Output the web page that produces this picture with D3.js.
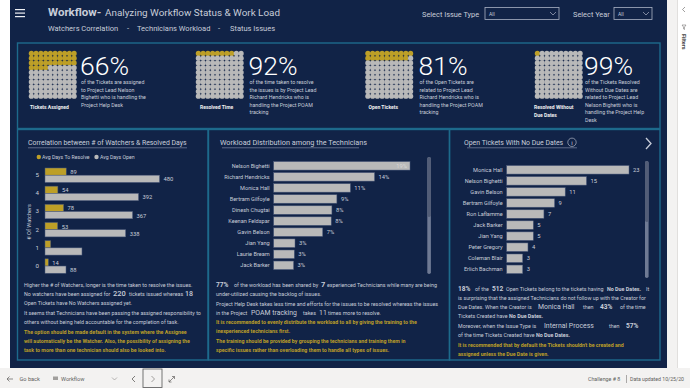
<!DOCTYPE html>
<html>
<head>
<meta charset="utf-8">
<script src="https://cdn.jsdelivr.net/npm/d3@7"></script>
<style>
  html, body { margin: 0; padding: 0; background: #fff; overflow: hidden; }
  text { font-family: Roboto, "Noto Sans", sans-serif; white-space: pre; }
</style>
</head>
<body>
<script>
// Chart values
const kpiValues = [66, 92, 81, 99];
const kpiCaptions = [["Tickets Assigned"], ["Resolved Time"], ["Open Tickets"], ["Resolved Without", "Due Dates"]];
const kpiText = [
  ["of the Tickets are assigned", "to Project Lead Nelson", "Bighetti who is handling the", "Project Help Desk"],
  ["of the time taken to resolve", "the issues is by Project Lead", "Richard Hendricks who is", "handling the Project POAM", "tracking"],
  ["of the Open Tickets are", "related to Project Lead", "Richard Hendricks who is", "handling the Project POAM", "tracking"],
  ["of the Tickets Resolved", "Without Due Dates are", "related to Project Lead", "Nelson Bighetti who is", "handling the Project Help", "Desk"]
];

const watcherCats = ["5", "4", "3", "2", "1", "0"];
const daysToResolve = [89, 54, 78, 53, 24, 14];
const daysOpen = [480, 392, 367, 338, 155, 88];
const hiddenLabels = ["1"];

const techNames = ["Nelson Bighetti", "Richard Hendricks", "Monica Hall", "Bertram Gilfoyle", "Dinesh Chugtai", "Keenan Feldspar", "Gavin Belson", "Jian Yang", "Laurie Bream", "Jack Barker"];
const techShare = [19.2, 14.2, 10.8, 8.9, 8.2, 8.1, 6.9, 3.0, 2.9, 2.8];

const dueNames = ["Monica Hall", "Nelson Bighetti", "Gavin Belson", "Bertram Gilfoyle", "Ron Laflamme", "Jack Barker", "Jian Yang", "Peter Gregory", "Coleman Blair", "Erlich Bachman"];
const dueCounts = [23, 15, 11, 9, 7, 5, 5, 4, 3, 3];

const navy = "#112347", teal = "#1d6a8c", gold = "#bd9f27", grey = "#b9b9b9", soft = "#c8cdd9", white = "#eef0f4";

const svg = d3.select("body").append("svg")
  .attr("width", 690).attr("height", 388)
  .style("display", "block");

// Page chrome
svg.append("rect").attr("width", 690).attr("height", 388).attr("fill", "#ffffff");
svg.append("rect").attr("x", 10).attr("width", 657).attr("height", 368).attr("fill", navy);
svg.append("rect").attr("y", 368).attr("width", 690).attr("height", 20).attr("fill", "#f3f2f1");
svg.append("rect").attr("x", 667).attr("width", 10).attr("height", 368).attr("fill", "#f3f2f1");
svg.append("line").attr("x1", 677.5).attr("x2", 677.5).attr("y1", 0).attr("y2", 368).attr("stroke", "#e1dfdd");

function label(x, y, str, size, fill, opts = {}) {
  return svg.append("text").attr("x", x).attr("y", y).text(str)
    .attr("font-size", size).attr("fill", fill)
    .attr("font-weight", opts.weight || "normal")
    .attr("text-anchor", opts.anchor || "start");
}

// Menu icon
[9, 12.5, 16].forEach(y => svg.append("rect").attr("x", 15).attr("y", y).attr("width", 10).attr("height", 1.2).attr("fill", white));

// Header
label(48, 16, "Workflow-", 11.5, soft, { weight: "bold" });
label(105, 16, "Analyzing Workflow Status & Work Load", 9.9, soft);
label(48, 30.5, "Watchers Correlation", 7.5, soft);
label(127, 30.5, "-", 7.5, soft);
label(137, 30.5, "Technicians Workload", 7.5, soft);
label(218, 30.5, "-", 7.5, soft);
label(230, 30.5, "Status Issues", 7.5, soft);

label(422, 17, "Select Issue Type", 7.4, soft);
label(573, 17, "Select Year", 7.4, soft);
function dropdown(x, w) {
  svg.append("rect").attr("x", x).attr("y", 7.5).attr("width", w).attr("height", 12)
    .attr("fill", "none").attr("stroke", "#aab2c4").attr("stroke-width", 0.8);
  label(x + 4, 16, "All", 5, soft);
  svg.append("path").attr("d", `M${x + w - 9} 12 l3 3 l3 -3`).attr("fill", "none").attr("stroke", "#aab2c4").attr("stroke-width", 0.7);
}
dropdown(485, 74);
dropdown(614, 38);

// Panels
const panelStyle = s => s.attr("fill", "none").attr("stroke", teal).attr("stroke-width", 1.4);
svg.append("rect").attr("x", 17.5).attr("y", 43).attr("width", 642.5).attr("height", 85.5).call(panelStyle);
svg.append("rect").attr("x", 17.5).attr("y", 129.5).attr("width", 190.5).attr("height", 230.5).call(panelStyle);
svg.append("rect").attr("x", 208.5).attr("y", 129.5).attr("width", 241).attr("height", 230.5).call(panelStyle);
svg.append("rect").attr("x", 449.5).attr("y", 129.5).attr("width", 210.5).attr("height", 230.5).call(panelStyle);

// KPI waffles: one dot per percent, the gold dots are what is left over
const kpiX = [29, 196, 365.5, 535];
const kpiTextX = [81, 249.5, 419.5, 585];
const kpiCaptionX = [30, 200, 368.5, 534];
const cellIdx = d3.range(10);
kpiValues.forEach((v, k) => {
  const x = d3.scaleBand().domain(cellIdx).range([kpiX[k], kpiX[k] + 47.5]);
  const y = d3.scaleBand().domain(cellIdx).range([51, 98.5]);
  svg.append("g").selectAll("circle").data(d3.range(100)).join("circle")
    .attr("cx", d => x(d % 10) + x.bandwidth() / 2)
    .attr("cy", d => y(Math.floor(d / 10)) + y.bandwidth() / 2)
    .attr("r", 2.6)
    .attr("fill", d => d < 100 - v ? gold : grey);

  label(kpiTextX[k] - 1, 75, v + "%", 26.5, "#ffffff", { weight: 300 });
  kpiText[k].forEach((line, i) => label(kpiTextX[k], 84 + i * 7.6, line, 5.3, soft));
  kpiCaptions[k].forEach((line, i) => label(kpiCaptionX[k], 108.5 + i * 8.3, line, 5, "#f2f2f2", { weight: "bold" }));
});

// Section titles with their underlines
function sectionTitle(x, str, size, x1, x2) {
  label(x, 145, str, size, soft);
  svg.append("line").attr("x1", x1).attr("x2", x2).attr("y1", 147.8).attr("y2", 147.8).attr("stroke", "#7f8aa3").attr("stroke-width", 0.7);
}
sectionTitle(28, "Correlation between # of Watchers & Resolved Days", 6.9, 28, 187);
sectionTitle(220, "Workload Distribution among the Technicians", 7.3, 222, 359);
sectionTitle(464, "Open Tickets With No Due Dates", 6.9, 467, 577);

// Legend
svg.append("circle").attr("cx", 38.8).attr("cy", 157).attr("r", 2.2).attr("fill", gold);
label(42, 159, "Avg Days To Resolve", 5.2, soft);
svg.append("circle").attr("cx", 96.5).attr("cy", 157).attr("r", 2.2).attr("fill", grey);
label(100, 159, "Avg Days Open", 5.2, soft);

// Watchers chart
const wy = d3.scaleBand().domain(watcherCats).range([166, 275]);
const wx = d3.scaleLinear().domain([0, 480]).range([45, 159.5]);
const barH = 7.2;
const barStroke = s => s.attr("stroke", "#4c5b7c").attr("stroke-width", 0.5);
[daysToResolve, daysOpen].forEach((values, s) => {
  const series = watcherCats.map((cat, i) => ({ cat, value: values[i] }));
  const g = svg.append("g");
  g.selectAll("rect").data(series).join("rect")
    .attr("x", wx(0)).attr("y", d => wy(d.cat) + 2 + s * barH)
    .attr("width", d => wx(d.value) - wx(0)).attr("height", barH)
    .attr("fill", s === 0 ? gold : grey).call(barStroke);
  g.selectAll("text").data(series.filter(d => !hiddenLabels.includes(d.cat))).join("text")
    .attr("x", d => wx(d.value) + 4).attr("y", d => wy(d.cat) + 8 + s * barH)
    .text(d => d.value).attr("font-size", 5.8).attr("fill", soft);
});
const wAxis = svg.append("g").attr("transform", "translate(45,0)")
  .call(d3.axisLeft(wy).tickSize(0).tickPadding(6));
wAxis.select(".domain").remove();
wAxis.selectAll("text").attr("font-size", 6.2).attr("fill", soft).attr("font-family", null);
svg.append("text").attr("transform", "translate(31,222) rotate(-90)").attr("text-anchor", "middle")
  .text("# Of Watchers").attr("font-size", 5.6).attr("fill", soft);

// Horizontal bars with a name axis, a value label and a scrollbar
function nameBars(cfg) {
  const y = d3.scaleBand().domain(cfg.names).range(cfg.yRange);
  const x = d3.scaleLinear().domain([0, cfg.max]).range(cfg.xRange);
  const g = svg.append("g");
  g.selectAll("rect").data(cfg.names).join("rect")
    .attr("x", x(0)).attr("y", d => y(d) + 1.1)
    .attr("width", (d, i) => x(cfg.values[i]) - x(0)).attr("height", y.bandwidth() - 2.6)
    .attr("fill", grey).call(barStroke);
  g.selectAll("text").data(cfg.names).join("text")
    .attr("x", (d, i) => cfg.inside && cfg.inside(i) ? x(cfg.values[i]) - 3 : x(cfg.values[i]) + 4)
    .attr("text-anchor", (d, i) => cfg.inside && cfg.inside(i) ? "end" : "start")
    .attr("y", d => y(d) + y.bandwidth() / 2 + 2)
    .text((d, i) => cfg.fmt(cfg.values[i])).attr("font-size", 5.8)
    .attr("fill", (d, i) => cfg.inside && cfg.inside(i) ? "#d6d6d6" : soft);
  const axis = svg.append("g").attr("transform", `translate(${cfg.xRange[0]},0)`)
    .call(d3.axisLeft(y).tickSize(0).tickPadding(4));
  axis.select(".domain").remove();
  axis.selectAll("text").attr("font-size", 5.6).attr("fill", soft).attr("font-family", null);
  svg.append("rect").attr("x", cfg.sbX).attr("y", cfg.sbY[0]).attr("width", 3.6).attr("height", cfg.sbY[2] - cfg.sbY[0]).attr("rx", 1.8).attr("fill", "#6f7a94");
  svg.append("rect").attr("x", cfg.sbX).attr("y", cfg.sbY[0]).attr("width", 3.6).attr("height", cfg.sbY[1] - cfg.sbY[0]).attr("rx", 1.8).attr("fill", "#525d77");
}
nameBars({
  names: techNames, values: techShare, max: 19.2, xRange: [273.7, 410], yRange: [160.5, 271],
  fmt: v => Math.round(v) + "%", inside: i => i === 0, sbX: 427.3, sbY: [157, 217, 274]
});
nameBars({
  names: dueNames, values: dueCounts, max: 23, xRange: [506.7, 629], yRange: [164.5, 275],
  fmt: v => v, sbX: 645, sbY: [161, 222, 278]
});

// Info icon and next arrow
svg.append("circle").attr("cx", 572).attr("cy", 142.3).attr("r", 4.2).attr("fill", "none").attr("stroke", soft).attr("stroke-width", 0.6);
label(572, 144.5, "i", 6, soft, { anchor: "middle" });
svg.append("path").attr("d", "M646 138 l5 5.5 l-5 5.5").attr("fill", "none").attr("stroke", soft).attr("stroke-width", 1.3);

// Runs of text: [string, size, weight, x]
function rich(x, y, runs, fill) {
  const t = svg.append("text").attr("x", x).attr("y", y).attr("fill", fill);
  runs.forEach(r => {
    const span = t.append("tspan").text(r[0]).attr("font-size", r[1] || 5.35).attr("font-weight", r[2] || "normal");
    if (r[3]) span.attr("x", r[3]);
  });
}
const goldBold = (x, y, s) => rich(x, y, [[s, 5.25, "bold"]], gold);

rich(24, 287, [["Higher the # of Watchers, longer is the time taken to resolve the issues."]], soft);
rich(24, 296, [["No watchers have been assigned for"], ["220", 7.5, 500, 113], ["tickets issued whereas", 5.35, 400, 129], ["18", 7, 500, 185]], soft);
rich(24, 305, [["Open Tickets have No Watchers assigned yet."]], soft);
rich(24, 314.6, [["It seems that Technicians have been passing the assigned responsibility to"]], soft);
rich(24, 324, [["others without being held accountable for the completion of task."]], soft);
goldBold(24, 333.6, "The option should be made default in the system where the Assignee");
goldBold(24, 343, "will automatically be the Watcher. Also, the possibility of assigning the");
goldBold(24, 352.2, "task to more than one technician should also be looked into.");

rich(216, 287, [["77%", 6.6, "bold"], ["of the workload has been shared by", 5.35, 400, 234], ["7", 7.5, "bold", 321], ["experienced Technicians while many are being", 5.35, 400, 327]], soft);
rich(216, 296, [["under-utilized causing the backlog of issues."]], soft);
rich(216, 305.6, [["Project Help Desk takes less time and efforts for the issues to be resolved whereas the issues"]], soft);
rich(216, 314.7, [["in the Project"], ["POAM tracking", 6.9, 400, 251], ["takes", 5.35, 400, 303], ["11", 7, 400, 319], ["times more to resolve.", 5.35, 400, 328]], soft);
goldBold(216, 324, "It is recommended to evenly distribute the workload to all by giving the training to the");
goldBold(216, 333.3, "inexperienced technicians first.");
goldBold(216, 342.7, "The training should be provided by grouping the technicians and training them in");
goldBold(216, 352, "specific issues rather than overloading them to handle all types of issues.");

rich(458, 290.7, [["18%", 6.6, "bold"], ["of the", 5.35, 400, 475], ["512", 6.6, "bold", 492], ["Open Tickets belong to the tickets having", 5.35, 400, 506], ["No Due Dates.", 5.35, "bold", 607], ["It", 5.35, 400, 646]], soft);
rich(458, 300, [["is surprising that the assigned Technicians do not follow up with the Creator for"]], soft);
rich(458, 309.3, [["Due Dates. When the Creator is"], ["Monica Hall", 6.9, 400, 538], ["then", 5.35, 400, 583], ["43%", 6.6, "bold", 600], ["of the time", 5.35, 400, 620]], soft);
rich(458, 318.3, [["Tickets Created have "], ["No Due Dates.", 5.35, "bold"]], soft);
rich(458, 328, [["Moreover, when the Issue Type is"], ["Internal Process", 6.9, 400, 544], ["then", 5.35, 400, 609], ["57%", 6.6, "bold", 626]], soft);
rich(458, 337.3, [["of the time Tickets Created have "], ["No Due Dates.", 5.35, "bold"]], soft);
goldBold(458, 346.7, "It is recommended that by default the Tickets shouldn't be created and");
goldBold(458, 356, "assigned unless the Due Date is given.");

// Bottom bar
const barText = "#605e5c";
svg.append("path").attr("d", "M13 379 h-6 m2.5 -2.5 l-2.5 2.5 l2.5 2.5").attr("fill", "none").attr("stroke", barText).attr("stroke-width", 0.7);
label(19.5, 381, "Go back", 5.6, barText);
svg.append("rect").attr("x", 53).attr("y", 376.5).attr("width", 5).attr("height", 3.5).attr("fill", "#a19f9d");
label(61, 381, "Workflow", 5.6, barText);
svg.append("path").attr("d", "M112 377.5 l2.5 2.5 l2.5 -2.5").attr("fill", "none").attr("stroke", "#8a8886").attr("stroke-width", 0.6);
svg.append("path").attr("d", "M135 376 l-3 3 l3 3").attr("fill", "none").attr("stroke", barText).attr("stroke-width", 0.8);
svg.append("rect").attr("x", 143).attr("y", 369).attr("width", 19).attr("height", 18.5).attr("fill", "none").attr("stroke", "#666").attr("stroke-width", 0.9);
svg.append("path").attr("d", "M151.5 376 l3 3 l-3 3").attr("fill", "none").attr("stroke", "#8a8886").attr("stroke-width", 0.8);
svg.append("path").attr("d", "M169 382 l5.5 -5.5 m-2.5 0 h2.5 v2.5 M169 379.5 v2.5 h2.5").attr("fill", "none").attr("stroke", barText).attr("stroke-width", 0.7);
label(588, 381, "Challenge # 8", 5.3, barText);
svg.append("line").attr("x1", 626.5).attr("x2", 626.5).attr("y1", 375).attr("y2", 383).attr("stroke", "#8a8886").attr("stroke-width", 0.7);
label(630, 381, "Data updated 10/25/20", 5.2, barText);

// Filters pane
svg.append("path").attr("d", "M685 7 l-2.5 2.5 l2.5 2.5").attr("fill", "none").attr("stroke", barText).attr("stroke-width", 0.6);
svg.append("path").attr("d", "M682 25 h4 l-1.5 2 v2.5 l-1 -0.6 v-1.9 z").attr("fill", "none").attr("stroke", barText).attr("stroke-width", 0.5);
svg.append("text").attr("transform", "translate(681.5,34) rotate(90)").text("Filters")
  .attr("font-size", 5.5).attr("font-weight", "bold").attr("fill", "#444");
</script>
</body>
</html>
